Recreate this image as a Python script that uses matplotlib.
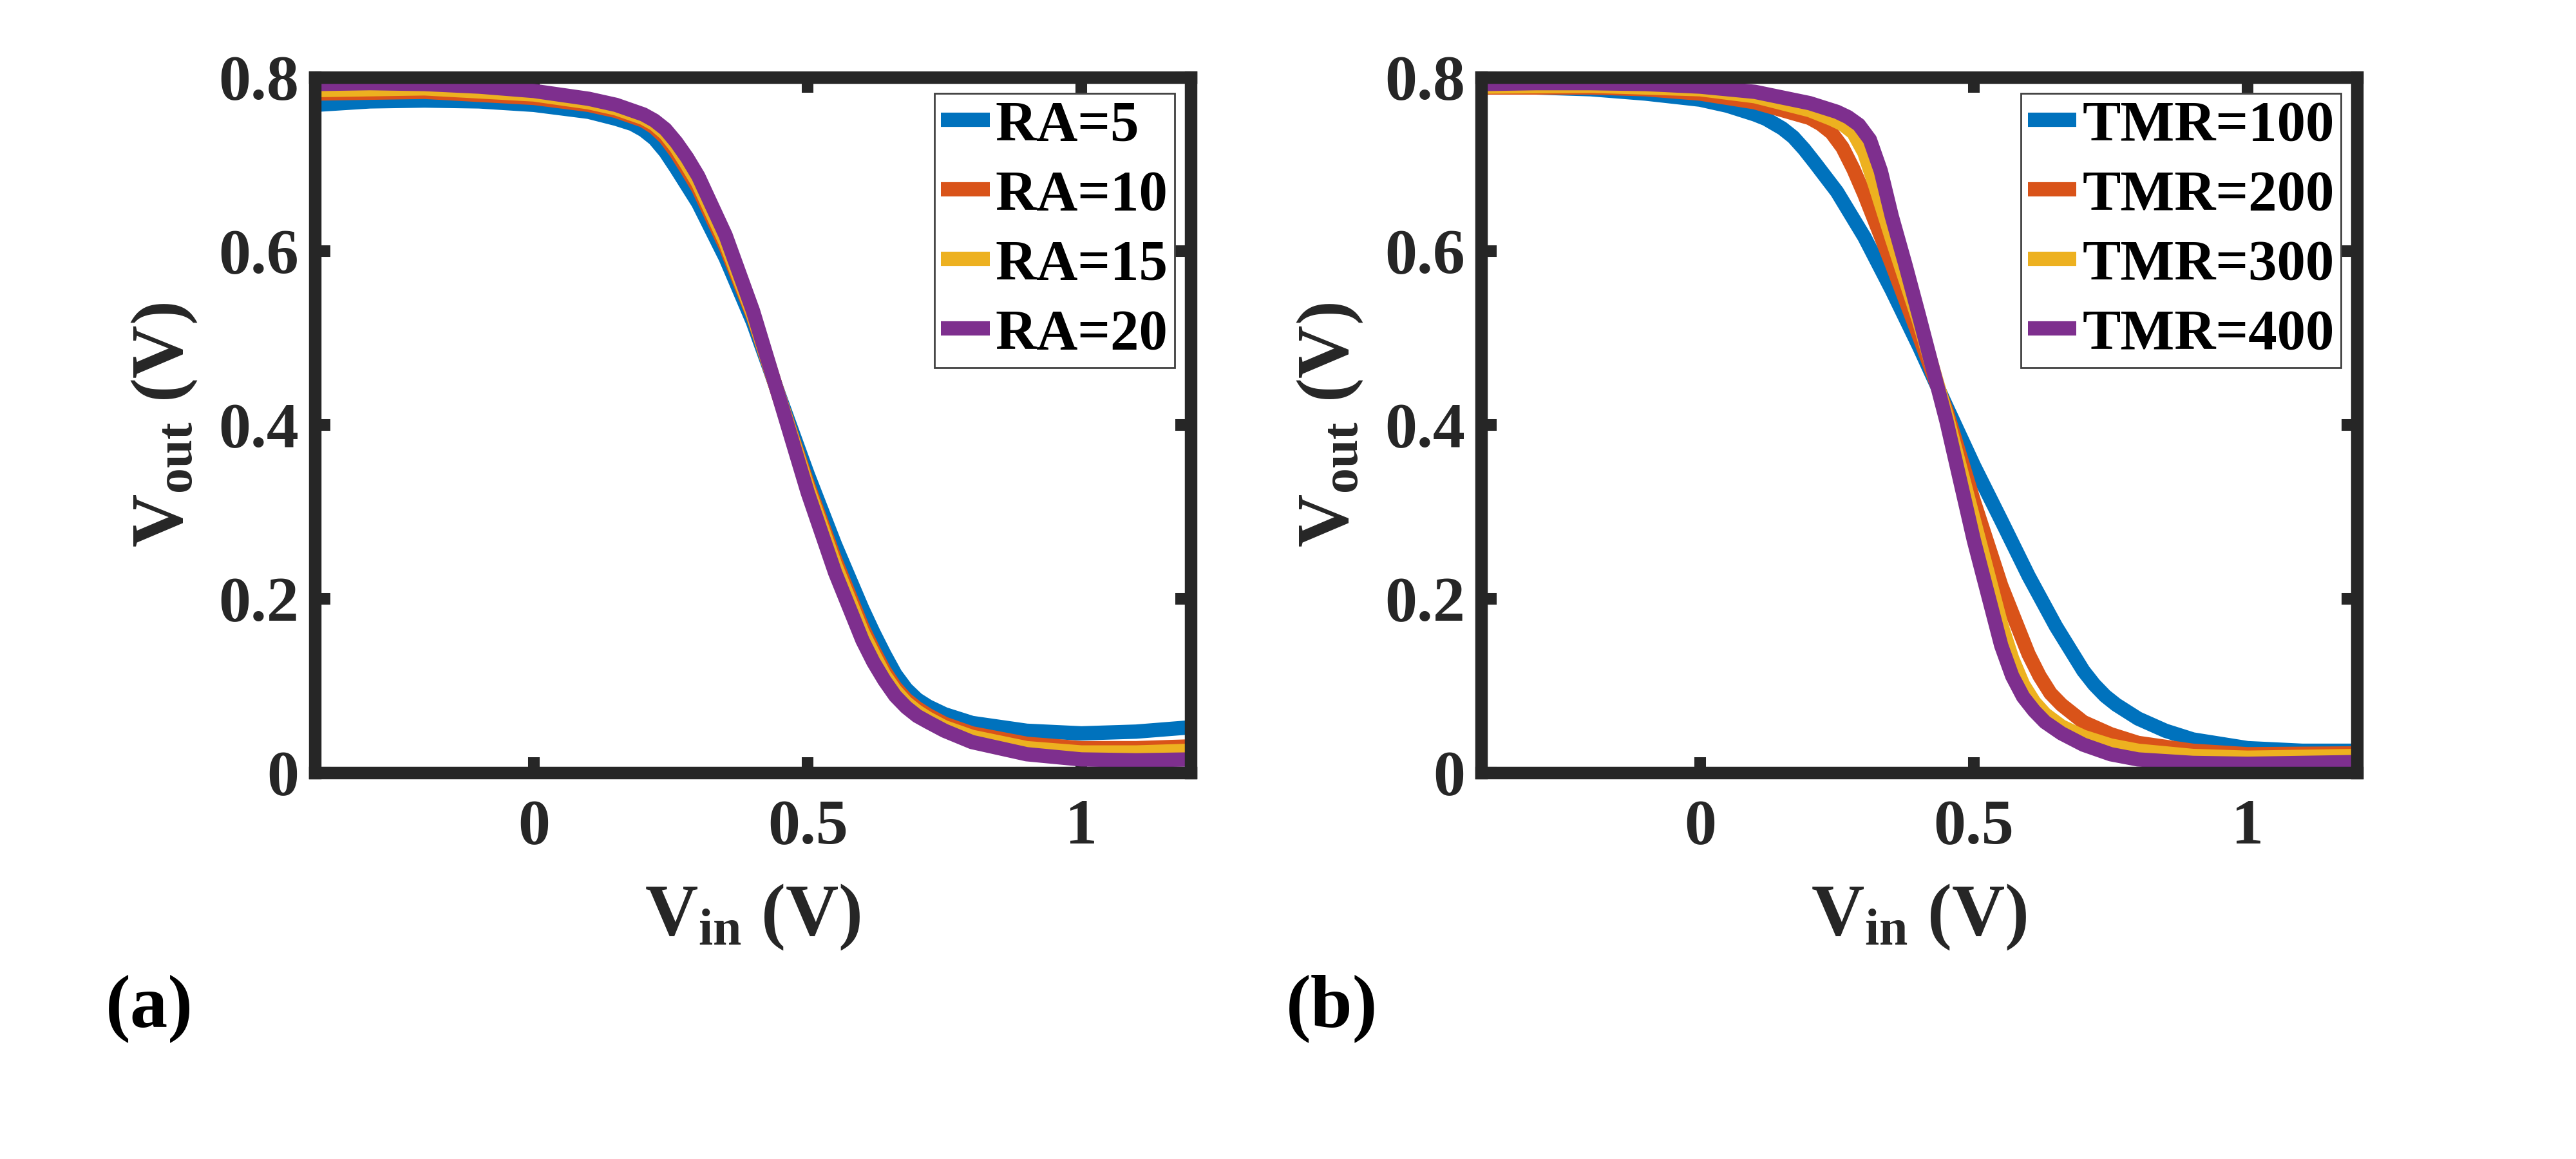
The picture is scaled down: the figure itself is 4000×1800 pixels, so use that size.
import matplotlib
matplotlib.use("Agg")
import matplotlib.pyplot as plt

plt.rcParams['font.family'] = ['Liberation Serif', 'DejaVu Serif']
plt.rcParams['font.weight'] = 'bold'
plt.rcParams['mathtext.fontset'] = 'custom'
plt.rcParams['mathtext.rm'] = 'Liberation Serif:bold'
plt.rcParams['mathtext.bf'] = 'Liberation Serif:bold'
plt.rcParams['mathtext.it'] = 'Liberation Serif:bold'

# ---------------- data: panel (a) RA sweep ----------------
ra_labels = ['RA=5', 'RA=10', 'RA=15', 'RA=20']
ra5_x = [-0.4, -0.3, -0.2, -0.1, 0.0, 0.1, 0.15, 0.18, 0.2, 0.22, 0.24, 0.26, 0.28, 0.3, 0.35,
         0.4, 0.45, 0.5, 0.55, 0.6, 0.62, 0.64, 0.66, 0.68, 0.7, 0.72, 0.75, 0.8, 0.9, 1.0, 1.1, 1.2]
ra5_y = [0.768, 0.772, 0.773, 0.772, 0.768, 0.760, 0.752, 0.746, 0.739, 0.729, 0.714, 0.695,
         0.675, 0.655, 0.592, 0.518, 0.430, 0.343, 0.262, 0.188, 0.161, 0.136, 0.113, 0.096,
         0.084, 0.076, 0.067, 0.057, 0.048, 0.045, 0.047, 0.052]
ra10_x = [-0.4, -0.2, 0.0, 0.1, 0.15, 0.2, 0.22, 0.24, 0.26, 0.28, 0.3, 0.35, 0.4, 0.45, 0.5,
          0.55, 0.6, 0.62, 0.64, 0.66, 0.68, 0.7, 0.72, 0.75, 0.8, 0.9, 1.0, 1.1, 1.2]
ra10_y = [0.781, 0.783, 0.776, 0.768, 0.761, 0.750, 0.742, 0.730, 0.713, 0.693, 0.672, 0.605,
          0.525, 0.428, 0.332, 0.245, 0.167, 0.141, 0.117, 0.098, 0.084, 0.074, 0.066, 0.056,
          0.045, 0.033, 0.028, 0.028, 0.030]
ra15_x = [-0.4, -0.2, 0.0, 0.1, 0.15, 0.2, 0.22, 0.24, 0.26, 0.28, 0.3, 0.35, 0.4, 0.45, 0.5,
          0.55, 0.6, 0.62, 0.64, 0.66, 0.68, 0.7, 0.72, 0.75, 0.8, 0.9, 1.0, 1.1, 1.2]
ra15_y = [0.785, 0.787, 0.780, 0.771, 0.764, 0.753, 0.746, 0.735, 0.719, 0.699, 0.678, 0.610,
          0.527, 0.428, 0.328, 0.239, 0.161, 0.136, 0.112, 0.094, 0.080, 0.070, 0.062, 0.052,
          0.041, 0.028, 0.023, 0.023, 0.025]
ra20_x = [-0.4, -0.3, -0.2, -0.1, 0.0, 0.1, 0.15, 0.2, 0.22, 0.24, 0.26, 0.28, 0.3, 0.35, 0.4,
          0.45, 0.5, 0.55, 0.6, 0.62, 0.64, 0.66, 0.68, 0.7, 0.72, 0.75, 0.8, 0.9, 1.0, 1.1, 1.2]
ra20_y = [0.792, 0.793, 0.792, 0.789, 0.784, 0.775, 0.768, 0.757, 0.750, 0.740, 0.725, 0.707,
          0.686, 0.618, 0.531, 0.427, 0.322, 0.230, 0.152, 0.127, 0.106, 0.088, 0.075, 0.065,
          0.058, 0.048, 0.035, 0.021, 0.015, 0.014, 0.015]

# ---------------- data: panel (b) TMR sweep ----------------
tmr_labels = ['TMR=100', 'TMR=200', 'TMR=300', 'TMR=400']
tmr100_x = [-0.4, -0.3, -0.2, -0.1, 0.0, 0.05, 0.1, 0.12, 0.15, 0.17, 0.19, 0.21, 0.25, 0.3,
            0.35, 0.4, 0.45, 0.5, 0.55, 0.6, 0.65, 0.7, 0.72, 0.74, 0.76, 0.8, 0.85, 0.9, 1.0,
            1.1, 1.2]
tmr100_y = [0.789, 0.788, 0.786, 0.781, 0.774, 0.767, 0.757, 0.752, 0.741, 0.731, 0.717, 0.701,
            0.668, 0.616, 0.555, 0.490, 0.421, 0.353, 0.290, 0.226, 0.168, 0.117, 0.101, 0.088,
            0.078, 0.062, 0.048, 0.038, 0.028, 0.025, 0.025]
tmr200_x = [-0.4, -0.2, -0.1, 0.0, 0.1, 0.2, 0.22, 0.24, 0.26, 0.28, 0.3, 0.35, 0.4, 0.45, 0.5,
            0.55, 0.6, 0.62, 0.64, 0.66, 0.7, 0.75, 0.8, 0.9, 1.0, 1.2]
tmr200_y = [0.788, 0.788, 0.786, 0.781, 0.771, 0.753, 0.746, 0.736, 0.719, 0.694, 0.665, 0.585,
            0.502, 0.416, 0.312, 0.215, 0.136, 0.111, 0.091, 0.078, 0.058, 0.044, 0.034, 0.025,
            0.021, 0.022]
tmr300_x = [-0.4, -0.2, 0.0, 0.1, 0.2, 0.24, 0.26, 0.28, 0.3, 0.32, 0.35, 0.4, 0.45, 0.5, 0.55,
            0.57, 0.59, 0.61, 0.63, 0.66, 0.7, 0.75, 0.8, 0.9, 1.0, 1.2]
tmr300_y = [0.789, 0.790, 0.786, 0.778, 0.762, 0.752, 0.746, 0.736, 0.713, 0.675, 0.615, 0.519,
            0.411, 0.290, 0.170, 0.131, 0.101, 0.081, 0.067, 0.053, 0.041, 0.031, 0.025, 0.019,
            0.017, 0.019]
tmr400_x = [-0.4, -0.3, -0.2, -0.1, 0.0, 0.1, 0.2, 0.25, 0.27, 0.29, 0.31, 0.33, 0.35, 0.375,
            0.4, 0.45, 0.5, 0.55, 0.57, 0.59, 0.61, 0.63, 0.66, 0.7, 0.75, 0.8, 0.9, 1.0, 1.1, 1.2]
tmr400_y = [0.792, 0.793, 0.793, 0.792, 0.789, 0.783, 0.770, 0.760, 0.754, 0.745, 0.728, 0.692,
            0.640, 0.584, 0.525, 0.404, 0.267, 0.146, 0.111, 0.087, 0.071, 0.058, 0.045, 0.032,
            0.021, 0.015, 0.011, 0.010, 0.011, 0.012]

x_ticks = [0, 0.5, 1]
x_ticklabels = ['0', '0.5', '1']
y_ticks = [0, 0.2, 0.4, 0.6, 0.8]
y_ticklabels = ['0', '0.2', '0.4', '0.6', '0.8']
panel_tags = ['(a)', '(b)']

colors = ['#0072BD', '#D95319', '#EDB120', '#7E2F8E']
axis_col = '#262626'

fig = plt.figure(figsize=(40, 18), dpi=100)
ax_a = fig.add_axes([0.1223, 0.3335, 0.340, 0.600])
ax_b = fig.add_axes([0.5750, 0.3335, 0.340, 0.600])

series_a = [(ra5_x, ra5_y), (ra10_x, ra10_y), (ra15_x, ra15_y), (ra20_x, ra20_y)]
series_b = [(tmr100_x, tmr100_y), (tmr200_x, tmr200_y), (tmr300_x, tmr300_y), (tmr400_x, tmr400_y)]

for ax, series, labels in [(ax_a, series_a, ra_labels), (ax_b, series_b, tmr_labels)]:
    for (xs, ys), c, lab in zip(series, colors, labels):
        ax.plot(xs, ys, color=c, lw=16, label=lab, solid_joinstyle='round',
                solid_capstyle='butt')
    ax.set_xlim(-0.4, 1.2)
    ax.set_ylim(0, 0.8)
    ax.set_xticks(x_ticks)
    ax.set_xticklabels(x_ticklabels)
    ax.set_yticks(y_ticks)
    ax.set_yticklabels(y_ticklabels)
    for s in ax.spines.values():
        s.set_linewidth(14)
        s.set_color(axis_col)
        s.set_zorder(5)
    ax.tick_params(axis='both', direction='in', length=17, width=13, color=axis_col,
                   top=True, right=True, labelsize=72, labelcolor=axis_col)
    ax.tick_params(axis='x', pad=30)
    ax.tick_params(axis='y', pad=18)
    for t in ax.get_xticklabels() + ax.get_yticklabels():
        t.set_fontweight('bold')
    ax.set_xlabel(r'$\mathbf{V_{in}}$ (V)', fontsize=82, fontweight='bold', color=axis_col,
                  labelpad=28)
    ax.set_ylabel(r'$\mathbf{V_{out}}$ (V)', fontsize=82, fontweight='bold', color=axis_col,
                  labelpad=22)
    leg = ax.legend(loc='upper right', frameon=True, fancybox=False,
                    edgecolor='#404040', framealpha=1, handlelength=0.85,
                    handletextpad=0.1, labelspacing=0.3, borderpad=0.12,
                    borderaxespad=0.28, prop={'weight': 'bold', 'size': 64})
    leg.get_frame().set_linewidth(2)
    leg.set_zorder(10)
    for line in leg.get_lines():
        line.set_linewidth(16)

fig.text(0.058, 0.13, panel_tags[0], fontsize=84, fontweight='bold', ha='center', va='center')
fig.text(0.517, 0.13, panel_tags[1], fontsize=84, fontweight='bold', ha='center', va='center')

fig.savefig('out.png', dpi=100, facecolor='white')
